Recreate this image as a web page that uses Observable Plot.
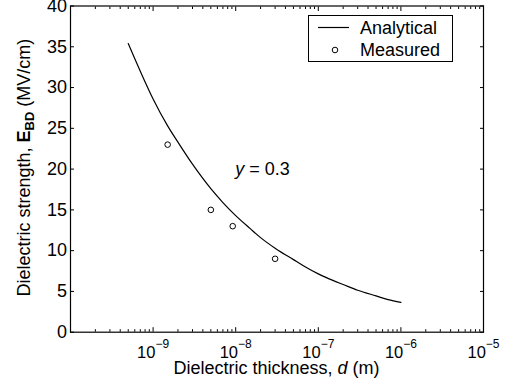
<!DOCTYPE html>
<html><head><meta charset="utf-8">
<script src="https://cdn.jsdelivr.net/npm/d3@7"></script>
<script src="https://cdn.jsdelivr.net/npm/@observablehq/plot@0.6"></script>
<style>
body{margin:0;background:#fff;}
#chart svg{font-family:"Liberation Sans",Arial,Helvetica,sans-serif;}
</style>
</head><body><div id="chart"></div>
<script>
// Analytical curve
const analyticalThickness = [5e-10, 7e-10, 1e-9, 1.5e-9, 2e-9, 3e-9, 5e-9, 7e-9, 1e-8, 1.5e-8, 2e-8, 3e-8, 5e-8, 7e-8, 1e-7, 1.5e-7, 2e-7, 3e-7, 5e-7, 7e-7, 1e-6];
const analyticalStrength  = [35.4, 32.0, 28.6, 25.3, 23.3, 20.6, 17.6, 15.9, 14.3, 12.7, 11.6, 10.3, 8.9, 8.0, 7.15, 6.35, 5.85, 5.15, 4.45, 4.0, 3.65];
// Measured points
const measuredThickness = [1.5e-9, 5.0e-9, 9.2e-9, 3.0e-8];
const measuredStrength  = [23.0, 15.0, 13.0, 9.0];
// Ticks
const xMajorTicks = [1e-10, 1e-9, 1e-8, 1e-7, 1e-6, 1e-5];
const xLabelTicks = [1e-9, 1e-8, 1e-7, 1e-6, 1e-5];
const xLabelExponents = ["\u22129", "\u22128", "\u22127", "\u22126", "\u22125"];
const minorMultipliers = [2, 3, 4, 5, 6, 7, 8, 9];
const yTicks = [0, 5, 10, 15, 20, 25, 30, 35, 40];
// Texts
const legendLabels = ["Analytical", "Measured"];
const annotation = {d: 1e-8, E: 20, symbol: "y", rest: " = 0.3"};

const xMinorTicks = xMajorTicks.slice(0, -1).flatMap(t => minorMultipliers.map(m => m * t));
const analytical = analyticalThickness.map((d, i) => ({d, E: analyticalStrength[i]}));
const measured = measuredThickness.map((d, i) => ({d, E: measuredStrength[i]}));
const expOf = new Map(xLabelTicks.map((t, i) => [t, xLabelExponents[i]]));
const blank = () => "";

const chart = Plot.plot({
  width: 515, height: 387,
  marginLeft: 70, marginRight: 32, marginTop: 5.5, marginBottom: 55.3,
  x: {type: "log", domain: [1e-10, 1e-5]},
  y: {domain: [0, 40]},
  style: {background: "white", color: "black", fontFamily: '"Liberation Sans", Arial, sans-serif'},
  marks: [
    Plot.frame({stroke: "black", strokeWidth: 1.2}),
    Plot.axisX(xMajorTicks, {anchor: "bottom", tickSize: -4.5, tickFormat: blank, label: null}),
    Plot.axisX(xMajorTicks, {anchor: "top", tickSize: -4.5, tickFormat: blank, label: null}),
    Plot.axisX(xMinorTicks, {anchor: "bottom", tickSize: -2.5, tickFormat: blank, label: null}),
    Plot.axisX(xMinorTicks, {anchor: "top", tickSize: -2.5, tickFormat: blank, label: null}),
    Plot.axisX(xLabelTicks, {anchor: "bottom", tickSize: 0, tickPadding: 14, fontSize: 16.5, label: null,
      tickFormat: t => "10^" + expOf.get(t)}),
    Plot.axisY(yTicks, {anchor: "left", tickSize: -4, tickFormat: blank, label: null}),
    Plot.axisY(yTicks, {anchor: "right", tickSize: -4, tickFormat: blank, label: null}),
    Plot.axisY(yTicks, {anchor: "left", tickSize: 0, tickPadding: 3.5, fontSize: 18, label: null}),
    Plot.line(analytical, {x: "d", y: "E", stroke: "black", strokeWidth: 1.2, curve: "monotone-x"}),
    Plot.dot(measured, {x: "d", y: "E", r: 2.8, stroke: "black", fill: "none", strokeWidth: 1})
  ]
});
document.getElementById("chart").appendChild(chart);

const svg = d3.select(chart);
// tick label sizes
svg.selectAll('g[aria-label="y-axis tick label"]').attr("font-size", 18).selectAll("text").attr("font-size", 18);
svg.selectAll('g[aria-label="x-axis tick label"]').attr("font-size", 16.5);
// superscripts on x tick labels
svg.selectAll('g[aria-label="x-axis tick label"] text').each(function() {
  const s = this.textContent;
  if (!s.includes("^")) return;
  const [base, exp] = s.split("^");
  const t = d3.select(this).attr("font-size", 16.5);
  t.text(null);
  t.append("tspan").text(base);
  t.append("tspan").attr("dy", -10).attr("font-size", 12).text(exp);
});

const xs = chart.scale("x"), ys = chart.scale("y");
const x0 = xs.range[0], x1 = xs.range[1], yTop = ys.range[1], yBot = ys.range[0];

// annotation
const ann = svg.append("text")
  .attr("x", xs.apply(annotation.d)).attr("y", ys.apply(annotation.E)).attr("dy", "0.35em")
  .attr("text-anchor", "start").attr("font-size", 18).attr("fill", "black");
ann.append("tspan").attr("font-style", "italic").text(annotation.symbol);
ann.append("tspan").text(annotation.rest);

// x label
const xl = svg.append("text")
  .attr("x", (x0 + x1) / 2).attr("y", 374).attr("text-anchor", "middle")
  .attr("font-size", 18).attr("fill", "black");
xl.append("tspan").text("Dielectric thickness, ");
xl.append("tspan").attr("font-style", "italic").text("d");
xl.append("tspan").text(" (m)");

// y label
const yl = svg.append("text")
  .attr("transform", `translate(30,${(yTop + yBot) / 2 - 1}) rotate(-90)`)
  .attr("text-anchor", "middle").attr("font-size", 18).attr("fill", "black");
yl.append("tspan").text("Dielectric strength, ");
yl.append("tspan").attr("font-weight", "bold").text("E");
yl.append("tspan").attr("font-weight", "bold").attr("font-size", 13).attr("dy", 4).text("BD");
yl.append("tspan").attr("dy", -4).text(" (MV/cm)");

// legend
const lg = svg.append("g").attr("text-anchor", "start");
lg.append("rect").attr("x", 308.5).attr("y", 15.5).attr("width", 144).attr("height", 46)
  .attr("fill", "white").attr("stroke", "black").attr("stroke-width", 1);
lg.append("line").attr("x1", 318).attr("x2", 349).attr("y1", 27.5).attr("y2", 27.5)
  .attr("stroke", "black").attr("stroke-width", 1.2);
lg.append("circle").attr("cx", 335).attr("cy", 50).attr("r", 2.8)
  .attr("fill", "none").attr("stroke", "black");
lg.append("text").attr("x", 360).attr("y", 27.5).attr("dy", "0.35em").attr("font-size", 18).text(legendLabels[0]);
lg.append("text").attr("x", 360).attr("y", 49.5).attr("dy", "0.35em").attr("font-size", 18).text(legendLabels[1]);
</script>
</body></html>
